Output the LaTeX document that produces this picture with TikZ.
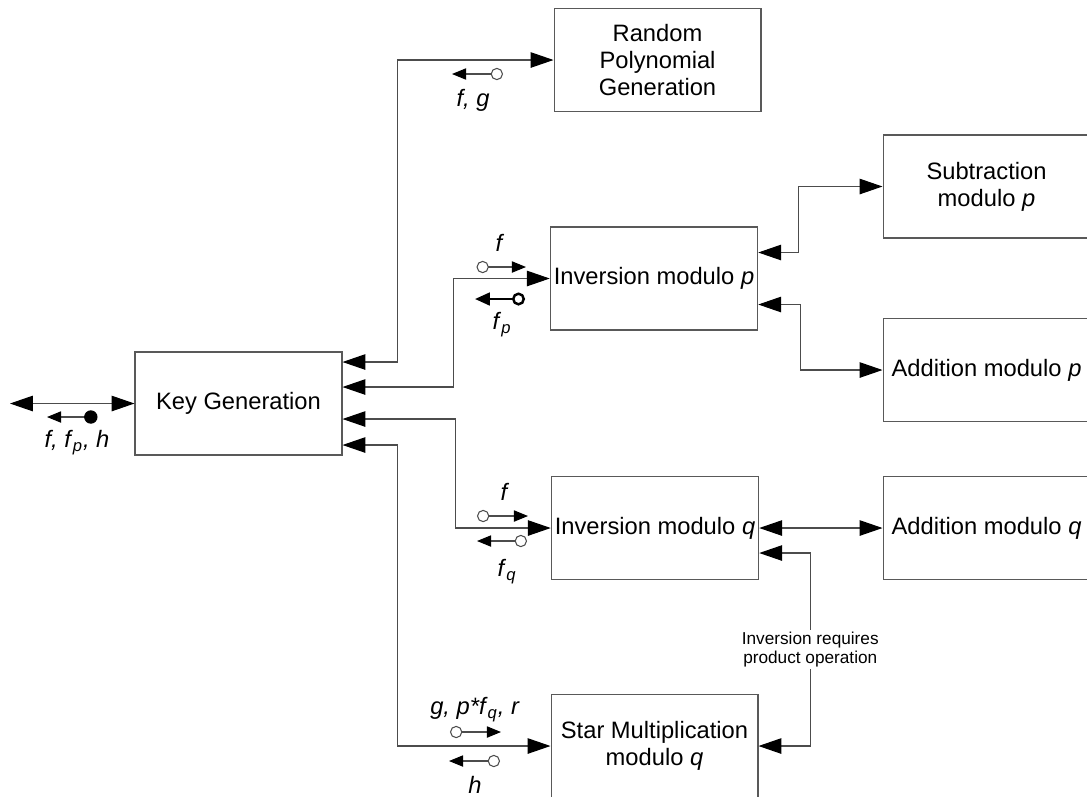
\documentclass[tikz,border=0pt]{standalone}
\usepackage{fontspec}
\setmainfont{Liberation Sans}
\usetikzlibrary{arrows.meta,calc}

\tikzset{
    bigtri/.tip={Triangle[length=13pt,width=8.8pt,color=black]},
    smalltri/.tip={Triangle[length=8pt,width=6.4pt,color=black]},
    opendot/.tip={Circle[open,length=7pt]},
    fulldot/.tip={Circle[length=7.6pt,color=black]},
    block/.style={draw=black!65, line width=0.6pt, minimum width=4.14cm, minimum height=2.06cm,
        align=center, inner sep=2pt, font=\fontsize{13.5}{15.3}\selectfont},
    link/.style={draw=black!70, line width=0.6pt, bigtri-bigtri},
    flow/.style={draw=black!70, line width=0.6pt, opendot-smalltri},
    dotflow/.style={draw=black!70, line width=0.6pt, fulldot-smalltri},
    boldflow/.style={draw=black, line width=1.4pt,
        {Circle[open,length=7.4pt]}-{Triangle[length=8.4pt,width=7.2pt]}},
    varlbl/.style={inner sep=1pt, font=\fontsize{13.5}{15.3}\selectfont},
    note/.style={fill=white, align=center, inner sep=1pt, font=\fontsize{9.8}{11.3}\selectfont}
}

\begin{document}
\begin{tikzpicture}[x=0.02cm, y=-0.02cm]
    \useasboundingbox (0,0) rectangle (1087,796);
    \clip (0,0) rectangle (1087,796);

    % blocks
    \node[block] (keygen) at (238.5,403.5) {Key Generation};
    \node[block] (rpg) at (657.5,60) {Random\\Polynomial\\Generation};
    \node[block] (invp) at (654,278.5) {Inversion modulo \textit{p}};
    \node[block] (invq) at (655,528) {Inversion modulo \textit{q}};
    \node[block] (star) at (654.5,746) {Star Multiplication\\modulo \textit{q}};
    \node[block] (sub) at (986.5,186.5) {Subtraction\\modulo \textit{p}};
    \node[block] (addp) at (986.5,370) {Addition modulo \textit{p}};
    \node[block] (addq) at (986.5,528) {Addition modulo \textit{q}};

    % links
    \coordinate (ext) at (10,403.5);
    \draw[link] (ext) -- (keygen.west);
    \draw[link] ($(keygen.east)+(0,-41.5)$) -- ++(55,0) |- (rpg.west);
    \draw[link] ($(keygen.east)+(0,-16.5)$) -- ++(111,0) |- (invp.west);
    \draw[link] ($(keygen.east)+(0,15.5)$) -- ++(113,0) |- (invq.west);
    \draw[link] ($(keygen.east)+(0,41.5)$) -- ++(55,0) |- (star.west);
    \draw[link] ($(invp.east)+(0,-26)$) -- ++(40,0) |- (sub.west);
    \draw[link] ($(invp.east)+(0,26)$) -- ++(42,0) |- (addp.west);
    \draw[link] (invq.east) -- (addq.west);
    \draw[link] ($(invq.east)+(0,25)$) -- ++(51,0)
        |- node[pos=0.25, note] (req) {Inversion requires\\product operation} (star.east);

    % data marks
    \draw[dotflow] (97.5,417) -- (47,417);
    \node[varlbl] (lkg) at (77,443) {\textit{f, f}\textsubscript{\textit{p}}\textit{, h}};

    \draw[flow] (503,74) -- (452,74);
    \node[varlbl] (lfg) at (473,100) {\textit{f, g}};

    \draw[flow] (476.5,267) -- (526,267);
    \node[varlbl] (lf1) at (500,243) {\textit{f}};
    \draw[boldflow] (525,299) -- (475,299);
    \node[varlbl] (lfp) at (502,325) {\textit{f}\textsubscript{\textit{p}}};

    \draw[flow] (477,516) -- (528,516);
    \node[varlbl] (lf2) at (505,492) {\textit{f}};
    \draw[flow] (527,541) -- (477,541);
    \node[varlbl] (lfq) at (507,572) {\textit{f}\textsubscript{\textit{q}}};

    \draw[flow] (450,732) -- (501,732);
    \node[varlbl] (lst) at (475,710) {\textit{g, p*f}\textsubscript{\textit{q}}\textit{, r}};
    \draw[flow] (500,761) -- (449,761);
    \node[varlbl] (lh) at (475,785) {\textit{h}};
\end{tikzpicture}
\end{document}
